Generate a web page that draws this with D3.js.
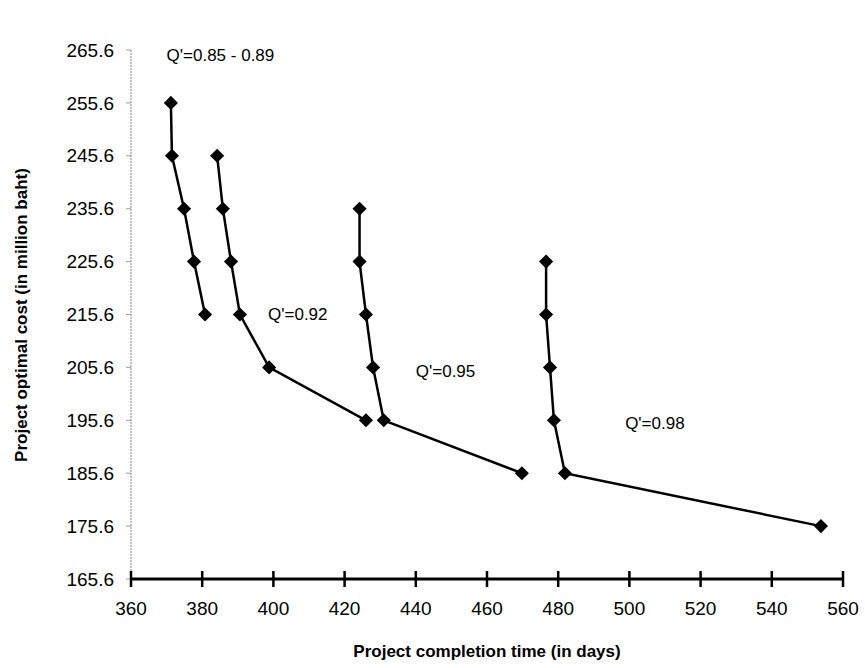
<!DOCTYPE html>
<html>
<head>
<meta charset="UTF-8">
<script src="https://d3js.org/d3.v7.min.js"></script>
<style>
  body { margin: 0; background: #fff; }
  text { font-family: Arial, "Liberation Sans", sans-serif; }
</style>
</head>
<body>
<svg id="chart" width="865" height="668"></svg>
<script>
  // --- data ---
  const s1x = [371.2, 371.5, 374.9, 377.7, 380.8];
  const s1y = [255.6, 245.6, 235.6, 225.6, 215.6];
  const s2x = [384.2, 385.8, 388.1, 390.6, 398.8, 426.0];
  const s2y = [245.6, 235.6, 225.6, 215.6, 205.6, 195.6];
  const s3x = [424.2, 424.2, 426.0, 428.0, 431.0, 469.8];
  const s3y = [235.6, 225.6, 215.6, 205.6, 195.6, 185.6];
  const s4x = [476.6, 476.6, 477.7, 478.8, 481.9, 553.8];
  const s4y = [225.6, 215.6, 205.6, 195.6, 185.6, 175.6];
  const xTicks = [360, 380, 400, 420, 440, 460, 480, 500, 520, 540, 560];
  const yTicks = [165.6, 175.6, 185.6, 195.6, 205.6, 215.6, 225.6, 235.6, 245.6, 255.6, 265.6];
  const labels = ["Q'=0.85 - 0.89", "Q'=0.92", "Q'=0.95", "Q'=0.98"];
  const labelX = [370, 398.5, 440, 498.8];
  const labelY = [264.6, 215.6, 205, 195];

  const svg = d3.select("#chart");
  const x = d3.scaleLinear().domain([360, 560]).range([131, 843]);
  const y = d3.scaleLinear().domain([165.6, 265.6]).range([579, 50]);

  // y axis: thin dotted line with small ticks
  svg.append("line").attr("x1", 131).attr("x2", 131).attr("y1", 50).attr("y2", 579)
    .attr("stroke", "#666").attr("stroke-width", 0.8).attr("stroke-dasharray", "2,1");
  yTicks.forEach(t => {
    svg.append("line").attr("x1", 126).attr("x2", 131).attr("y1", y(t)).attr("y2", y(t))
      .attr("stroke", "#888").attr("stroke-width", 0.8);
    svg.append("text").attr("x", 114).attr("y", y(t)).attr("dy", "0.35em")
      .attr("text-anchor", "end").attr("font-size", 19).text(t.toFixed(1));
  });

  // x axis: bold with crossing ticks
  svg.append("line").attr("x1", 131).attr("x2", 843).attr("y1", 579).attr("y2", 579)
    .attr("stroke", "#000").attr("stroke-width", 3);
  xTicks.forEach(t => {
    svg.append("line").attr("x1", x(t)).attr("x2", x(t)).attr("y1", 571).attr("y2", 587)
      .attr("stroke", "#000").attr("stroke-width", 2.5);
    svg.append("text").attr("x", x(t)).attr("y", 615).attr("text-anchor", "middle")
      .attr("font-size", 19).text(t);
  });

  svg.append("text").attr("x", 487).attr("y", 657).attr("text-anchor", "middle")
    .attr("font-size", 17).attr("font-weight", "bold").text("Project completion time (in days)");
  svg.append("text").attr("transform", "translate(27,315) rotate(-90)").attr("text-anchor", "middle")
    .attr("font-size", 17).attr("font-weight", "bold").text("Project optimal cost (in million baht)");

  const series = [[s1x, s1y], [s2x, s2y], [s3x, s3y], [s4x, s4y]];
  const line = d3.line().x(d => x(d[0])).y(d => y(d[1]));
  series.forEach(([xs, ys]) => {
    const pts = xs.map((v, i) => [v, ys[i]]);
    svg.append("path").attr("d", line(pts)).attr("fill", "none")
      .attr("stroke", "#000").attr("stroke-width", 2.5);
    svg.selectAll(null).data(pts).join("path")
      .attr("d", d3.symbol().type(d3.symbolSquare).size(100))
      .attr("transform", d => `translate(${x(d[0])},${y(d[1])}) rotate(45)`)
      .attr("fill", "#000");
  });

  labels.forEach((l, i) => {
    svg.append("text").attr("x", x(labelX[i])).attr("y", y(labelY[i])).attr("dy", "0.35em")
      .attr("font-size", 17).text(l);
  });
</script>
</body>
</html>
